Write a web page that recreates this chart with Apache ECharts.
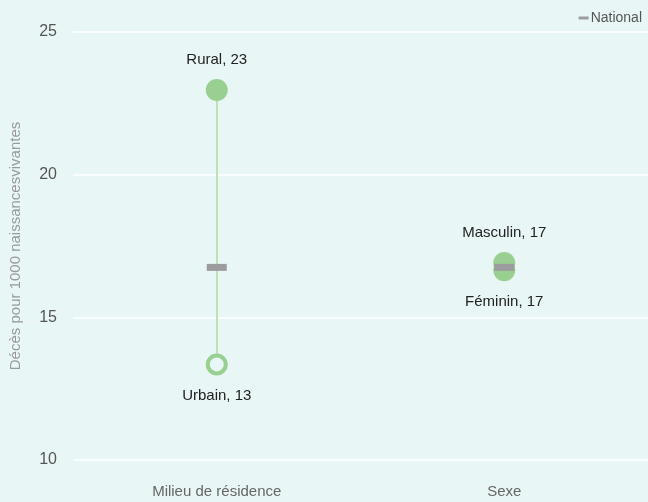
<!DOCTYPE html>
<html>
<head>
<meta charset="utf-8">
<script src="https://cdn.jsdelivr.net/npm/echarts@6/dist/echarts.min.js"></script>
<style>
  html, body { margin: 0; padding: 0; background: #e8f7f6; }
  #chart { width: 648px; height: 502px; }
</style>
</head>
<body>
<div id="chart"></div>
<script>
// categories and values
const categories = ['Milieu de résidence', 'Sexe'];
const highNames = ['Rural', 'Masculin'];
const highValues = [22.97, 16.9];
const lowNames = ['Urbain', 'Féminin'];
const lowValues = [13.35, 16.65];
const lowHollow = [true, false];
const nationalValues = [16.75, 16.75];

const green = '#99cf90';
const pointLabel = function (p) {
  return p.name + ', ' + Math.round(p.value[1]);
};

let chart = echarts.init(document.getElementById('chart'));
chart.setOption({
  backgroundColor: '#e8f7f6',
  textStyle: { fontFamily: 'Liberation Sans, Arial, sans-serif' },
  animation: false,
  legend: {
    data: [{ name: 'National', icon: 'rect' }],
    right: 1,
    top: 6,
    itemWidth: 10,
    itemHeight: 3,
    itemGap: 2,
    textStyle: { color: '#555', fontSize: 14, padding: [0, 0, 0, -3] }
  },
  grid: { left: 72, top: 32, right: 0, bottom: 42 },
  xAxis: {
    type: 'category',
    data: categories,
    axisLine: { show: false },
    axisTick: { show: false },
    axisLabel: { color: '#666', fontSize: 15, margin: 24 }
  },
  yAxis: {
    type: 'value',
    min: 10,
    max: 25,
    interval: 5,
    name: 'Décès pour 1000 naissancesvivantes',
    nameLocation: 'middle',
    nameGap: 50,
    nameTextStyle: { color: '#999', fontSize: 15 },
    axisLine: { show: false },
    axisTick: { show: false },
    axisLabel: { color: '#555', fontSize: 16, margin: 16 },
    splitLine: { lineStyle: { color: '#ffffff', width: 1.5 } }
  },
  series: [
    {
      name: 'range',
      type: 'lines',
      coordinateSystem: 'cartesian2d',
      silent: true,
      lineStyle: { color: '#bfe0b8', width: 2, opacity: 1 },
      data: categories.map((c, i) => ({ coords: [[c, highValues[i]], [c, lowValues[i]]] }))
    },
    {
      name: 'high',
      type: 'scatter',
      symbolSize: 22,
      itemStyle: { color: green, opacity: 1 },
      label: {
        show: true,
        position: 'top',
        distance: 12,
        color: '#222',
        fontSize: 15,
        formatter: pointLabel
      },
      data: categories.map((c, i) => ({ name: highNames[i], value: [c, highValues[i]] }))
    },
    {
      name: 'low',
      type: 'scatter',
      symbolSize: 22,
      label: {
        show: true,
        position: 'bottom',
        distance: 13,
        color: '#222',
        fontSize: 15,
        formatter: pointLabel
      },
      data: categories.map((c, i) => ({
        name: lowNames[i],
        value: [c, lowValues[i]],
        symbolSize: lowHollow[i] ? 18 : 22,
        itemStyle: lowHollow[i]
          ? { color: '#e8f7f6', borderColor: green, borderWidth: 4, opacity: 1 }
          : { color: green, opacity: 1 }
      }))
    },
    {
      name: 'National',
      type: 'scatter',
      symbol: 'rect',
      symbolSize: [20, 7],
      itemStyle: { color: '#9c9c9e', opacity: 1 },
      data: categories.map((c, i) => [c, nationalValues[i]])
    }
  ]
});
</script>
</body>
</html>
